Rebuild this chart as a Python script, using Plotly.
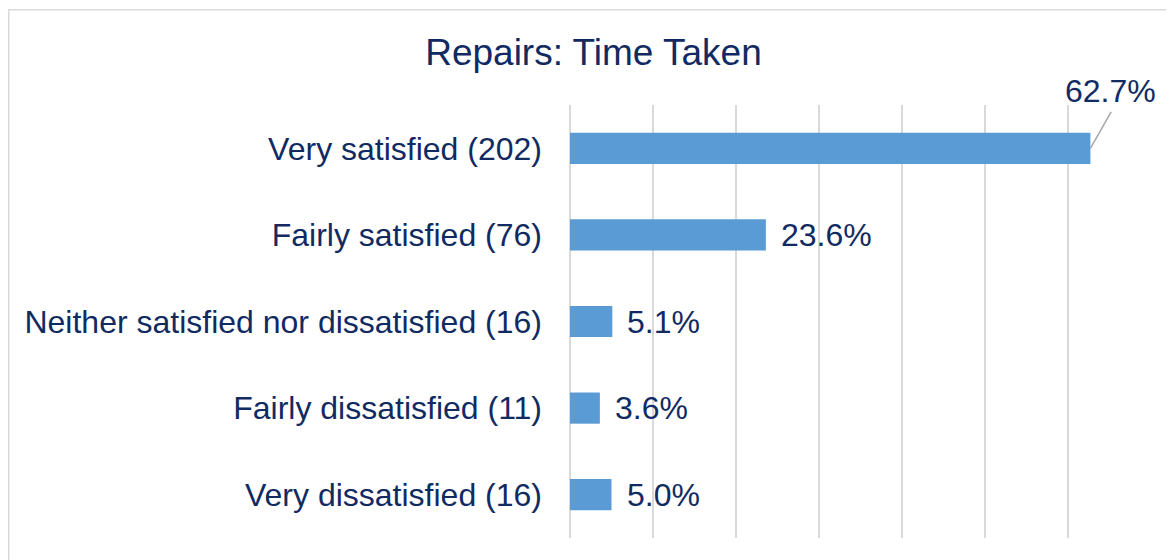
import plotly.graph_objects as go

# Datos
categories = ['Very satisfied (202)', 'Fairly satisfied (76)',
              'Neither satisfied nor dissatisfied (16)',
              'Fairly dissatisfied (11)', 'Very dissatisfied (16)']
percentages = [62.7, 23.6, 5.1, 3.6, 5.0]
value_labels = ['62.7%', '23.6%', '5.1%', '3.6%', '5.0%']

text_color = '#112B62'
grid_color = '#D9D9D9'
font_family = 'Liberation Sans, Arial, sans-serif'

fig = go.Figure()
fig.add_trace(go.Bar(
    x=percentages,
    y=categories,
    orientation='h',
    marker=dict(color='#5B9BD5', line=dict(width=0)),
    hoverinfo='skip',
))

# Etiquetas de valor
annotations = []
for i, (cat, val, lab) in enumerate(zip(categories, percentages, value_labels)):
    if i == 0:
        # etiqueta desplazada arriba a la derecha, con línea guía
        annotations.append(dict(
            x=val, y=cat, xref='x', yref='y', text=lab,
            showarrow=False, xanchor='center', yanchor='middle',
            xshift=20, yshift=57,
            font=dict(size=32, color=text_color, family=font_family),
        ))
    else:
        annotations.append(dict(
            x=val, y=cat, xref='x', yref='y', text=lab,
            showarrow=False, xanchor='left', xshift=13,
            font=dict(size=32, color=text_color, family=font_family),
        ))

fig.update_layout(
    width=1174, height=560,
    margin=dict(l=562, r=31, t=97, b=30),
    paper_bgcolor='white', plot_bgcolor='white',
    bargap=0.64,
    showlegend=False,
    title=dict(text='Repairs: Time Taken', x=0.4987, y=1 - 44 / 560,
               xanchor='center', yanchor='middle',
               font=dict(size=37, color=text_color, family=font_family)),
    annotations=annotations,
    shapes=[
        dict(type='rect', xref='paper', yref='paper',
             x0=-0.966, x1=1.08, y0=-0.09, y1=1.2200,
             line=dict(color=grid_color, width=1.5), layer='below'),
        # línea guía de la etiqueta 62.7%
        dict(type='line', xref='x', yref='y',
             x0=percentages[0], y0=0, x1=percentages[0] + 2.5, y1=-0.42,
             line=dict(color='#A6A6A6', width=1.5)),
    ],
)

fig.update_xaxes(range=[0, 70], dtick=10, showticklabels=False,
                 showgrid=True, gridcolor=grid_color, gridwidth=2,
                 zeroline=True, zerolinecolor=grid_color, zerolinewidth=2,
                 showline=False, fixedrange=True)
fig.update_yaxes(autorange='reversed', ticks='', showline=False, showgrid=False,
                 ticklabelstandoff=27,
                 tickfont=dict(size=32, color=text_color, family=font_family),
                 fixedrange=True)

fig.write_html('out.html')
